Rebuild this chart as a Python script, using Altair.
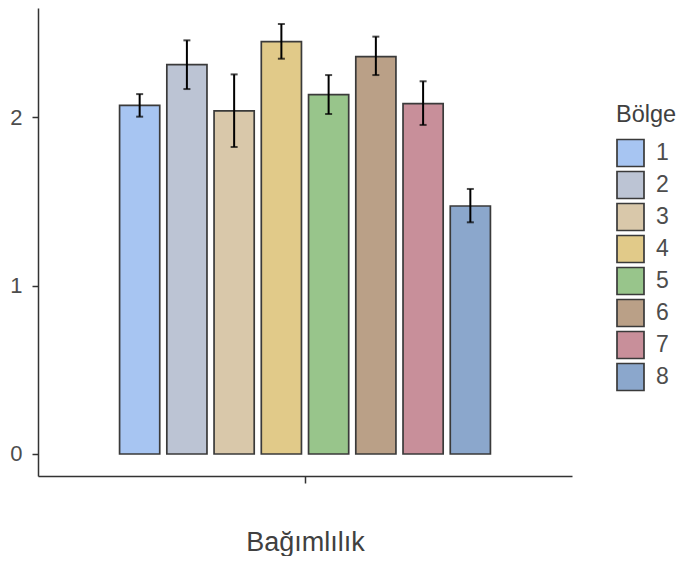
import altair as alt
import pandas as pd

regions = ["1", "2", "3", "4", "5", "6", "7", "8"]
means = [2.069, 2.311, 2.037, 2.447, 2.133, 2.358, 2.079, 1.472]
lower = [2.002, 2.166, 1.822, 2.346, 2.018, 2.249, 1.953, 1.375]
upper = [2.136, 2.455, 2.253, 2.552, 2.249, 2.477, 2.212, 1.573]
colors = ["#A7C5F2", "#BCC4D4", "#D9C8AA", "#E1CA89", "#98C58B", "#BAA087", "#C88F9A", "#8BA7CC"]
group = "Bağımlılık"
y_ticks = [0, 1, 2]

df = pd.DataFrame({
    "grp": [group] * len(regions),
    "region": regions,
    "mean": means,
    "lo": lower,
    "hi": upper,
    "zero": [0] * len(regions),
})

FONT = "Liberation Sans"

x_enc = alt.X(
    "grp:N",
    scale=alt.Scale(paddingInner=0, paddingOuter=0.22),
    axis=alt.Axis(
        labels=False, title="Bağımlılık", tickSize=7, tickColor="#333333",
        tickWidth=1.5, domainColor="#333333", domainWidth=1.5,
        titleFontSize=27, titleFont=FONT, titleFontWeight="normal",
        titleColor="#404040", titlePadding=46,
    ),
)
xo_enc = alt.XOffset("region:N", scale=alt.Scale(domain=regions, paddingInner=0.15, paddingOuter=0))
y_scale = alt.Scale(domain=[-0.1306, 2.647], nice=False, zero=False)

bars = alt.Chart(df).mark_bar(stroke="#3a3a3a", strokeWidth=1.7).encode(
    x=x_enc,
    xOffset=xo_enc,
    y=alt.Y(
        "mean:Q", scale=y_scale,
        axis=alt.Axis(
            values=y_ticks, format="d", title=None, tickSize=6, tickColor="#333333", tickWidth=1.5,
            domainColor="#333333", domainWidth=1.5, labelFontSize=22, labelFont=FONT,
            labelColor="#4d4d4d", labelPadding=10, grid=False,
        ),
    ),
    y2="zero:Q",
    color=alt.Color(
        "region:N",
        scale=alt.Scale(domain=regions, range=colors),
        legend=alt.Legend(
            title="Bölge", orient="none", legendX=578, legendY=95,
            titleFontSize=23.5, titleFont=FONT, titleFontWeight="normal", titleColor="#404040",
            labelFontSize=23, labelFont=FONT, labelColor="#4d4d4d",
            symbolType="square", symbolSize=729, symbolStrokeColor="#3a3a3a",
            symbolStrokeWidth=1.7, symbolOpacity=1, rowPadding=-4.5,
            labelOffset=11, titlePadding=12,
        ),
    ),
)

err = alt.Chart(df).mark_rule(color="black", strokeWidth=2).encode(
    x=x_enc, xOffset=xo_enc, y=alt.Y("lo:Q", scale=y_scale), y2="hi:Q"
)
cap_lo = alt.Chart(df).mark_tick(color="black", size=7, thickness=2).encode(
    x=x_enc, xOffset=xo_enc, y=alt.Y("lo:Q", scale=y_scale)
)
cap_hi = alt.Chart(df).mark_tick(color="black", size=7, thickness=2).encode(
    x=x_enc, xOffset=xo_enc, y=alt.Y("hi:Q", scale=y_scale)
)

chart = alt.layer(bars, err, cap_lo, cap_hi).properties(
    width=534, height=468,
    autosize=alt.AutoSizeParams(type="none"),
    padding={"left": 30, "top": 0, "right": 106, "bottom": 80},
).configure_view(stroke=None).configure_axis(grid=False)

chart.save("out.html", embed_options={"renderer": "svg", "actions": False})
